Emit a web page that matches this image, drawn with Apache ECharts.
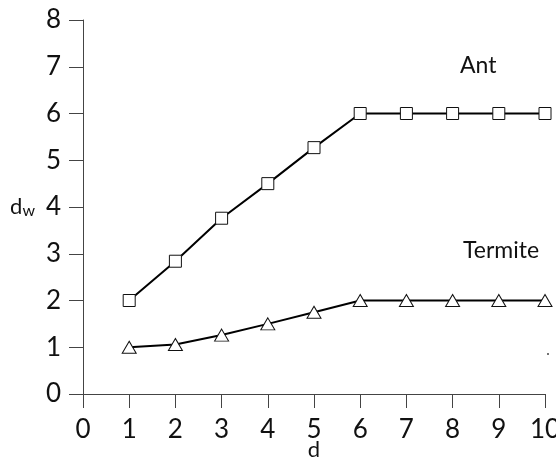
<!DOCTYPE html>
<html>
<head>
<meta charset="utf-8">
<script src="https://cdn.jsdelivr.net/npm/echarts@6/dist/echarts.min.js"></script>
<style>
html, body { margin: 0; padding: 0; background: #fff; }
#chart { width: 556px; height: 461px; }
</style>
</head>
<body>
<div id="chart"></div>
<script>
// 数据
var dValues = [1, 2, 3, 4, 5, 6, 7, 8, 9, 10]
var antValues = [2, 2.84, 3.76, 4.5, 5.27, 6, 6, 6, 6, 6]
var termiteValues = [1, 1.06, 1.26, 1.5, 1.75, 2, 2, 2, 2, 2]

function pairs (xs, ys) {
  return xs.map(function (x, i) { return [x, ys[i]] })
}

var font = 'Lato, "DejaVu Sans", sans-serif'
var myChart = echarts.init(document.getElementById('chart'))

var option = {
  backgroundColor: '#fff',
  animation: false,
  grid: {
    left: 83,
    right: 11,
    top: 20,
    bottom: 67,
    containLabel: false,
    outerBoundsMode: 'none'
  },
  xAxis: {
    type: 'value',
    min: 0,
    max: 10,
    interval: 1,
    name: 'd',
    nameLocation: 'middle',
    nameGap: 45,
    nameMoveOverlap: false,
    nameTextStyle: { color: '#111', fontSize: 22, fontFamily: font },
    axisLine: { lineStyle: { color: '#444', width: 1 } },
    axisTick: { inside: false, length: 14, lineStyle: { color: '#444' } },
    axisLabel: { color: '#111', fontSize: 26, fontFamily: font, margin: 23 },
    splitLine: { show: false }
  },
  yAxis: {
    type: 'value',
    min: 0,
    max: 8,
    interval: 1,
    name: '{d|d}{w|w}',
    nameLocation: 'middle',
    nameRotate: 0,
    nameGap: 48,
    nameMoveOverlap: false,
    nameTextStyle: {
      rich: {
        d: { color: '#111', fontSize: 22, fontFamily: font },
        w: { color: '#111', fontSize: 16, fontFamily: font, padding: [8, 0, 0, 0] }
      }
    },
    axisLine: { show: true, lineStyle: { color: '#444', width: 1 } },
    axisTick: { show: true, inside: false, length: 14, lineStyle: { color: '#444' } },
    axisLabel: { color: '#111', fontSize: 26, fontFamily: font, margin: 22 },
    splitLine: { show: false }
  },
  series: [
    {
      name: 'Ant',
      type: 'line',
      data: pairs(dValues, antValues),
      symbol: 'rect',
      symbolSize: 12,
      lineStyle: { color: '#000', width: 2 },
      itemStyle: { color: '#fff', borderColor: '#111', borderWidth: 1 },
      z: 3
    },
    {
      name: 'Termite',
      type: 'line',
      data: pairs(dValues, termiteValues),
      symbol: 'triangle',
      symbolSize: [14, 12],
      lineStyle: { color: '#000', width: 2 },
      itemStyle: { color: '#fff', borderColor: '#111', borderWidth: 1 },
      z: 3
    }
  ],
  graphic: [
    {
      type: 'text',
      left: 460,
      top: 54,
      style: { text: 'Ant', fill: '#111', fontSize: 23, fontFamily: font }
    },
    {
      type: 'text',
      left: 463,
      top: 239,
      style: { text: 'Termite', fill: '#111', fontSize: 23, fontFamily: font }
    },
    {
      type: 'circle',
      shape: { cx: 548, cy: 354, r: 1 },
      style: { fill: '#444' }
    }
  ]
}

myChart.setOption(option)
</script>
</body>
</html>
